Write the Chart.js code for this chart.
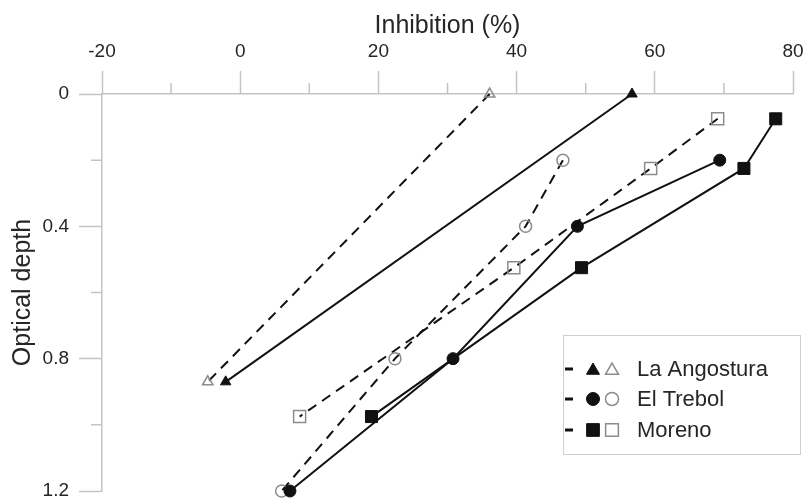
<!DOCTYPE html>
<html>
<head>
<meta charset="utf-8">
<script src="https://cdn.jsdelivr.net/npm/chart.js@4/dist/chart.umd.min.js"></script>
<style>
  html, body { margin: 0; padding: 0; background: #ffffff; }
  #wrap { width: 807px; height: 501px; }
</style>
</head>
<body>
<div id="wrap"><canvas id="c" width="807" height="501"></canvas></div>
<script>
// ---- data ----
const seriesNames = ['La Angostura', 'El Trebol', 'Moreno'];

const angFilledX = [56.7, -2.1];
const angFilledY = [0, 0.87];
const angOpenX   = [36.1, -4.7];
const angOpenY   = [0, 0.87];

const trebFilledX = [69.4, 48.8, 30.8, 7.2];
const trebFilledY = [0.2, 0.4, 0.8, 1.2];
const trebOpenX   = [46.7, 41.3, 22.4, 6.0];
const trebOpenY   = [0.2, 0.4, 0.8, 1.2];

const morFilledX = [77.5, 72.9, 49.4, 19.0];
const morFilledY = [0.075, 0.225, 0.525, 0.975];
const morOpenX   = [69.1, 59.4, 39.6, 8.6];
const morOpenY   = [0.075, 0.225, 0.525, 0.975];

const xMin = -20, xMax = 80, xStep = 10, xLabelStep = 20;
const yMin = 0, yMax = 1.2, yStep = 0.2, yLabelStep = 0.4;

const xTitle = 'Inhibition (%)';
const yTitle = 'Optical depth';

// ---- styling ----
const axisColor = '#c4c4c4';
const textColor = '#262626';
const openColor = '#8c8c8c';
const fillColor = '#111111';
const FONT = "'Liberation Sans', Arial, sans-serif";

function pts(xs, ys) { return xs.map((x, i) => ({ x: x, y: ys[i] })); }
function isMult(v, step) { const r = v / step; return Math.abs(r - Math.round(r)) < 1e-6; }

function ds(label, xs, ys, style, filled, dashed, radius) {
  return {
    label: label,
    data: pts(xs, ys),
    showLine: true,
    borderColor: fillColor,
    borderWidth: 2,
    borderDash: dashed ? [10, 7] : [],
    pointStyle: style,
    pointRadius: radius,
    pointHoverRadius: radius,
    pointBackgroundColor: filled ? fillColor : 'rgba(0,0,0,0)',
    pointBorderColor: filled ? fillColor : openColor,
    pointBorderWidth: filled ? 1 : 1.5,
    clip: false,
    tension: 0
  };
}

const datasets = [
  ds(seriesNames[0] + ' filled', angFilledX, angFilledY, 'triangle', true, false, 6),
  ds(seriesNames[0] + ' open', angOpenX, angOpenY, 'triangle', false, true, 6),
  ds(seriesNames[1] + ' filled', trebFilledX, trebFilledY, 'circle', true, false, 6),
  ds(seriesNames[1] + ' open', trebOpenX, trebOpenY, 'circle', false, true, 6),
  ds(seriesNames[2] + ' filled', morFilledX, morFilledY, 'rect', true, false, 8.5),
  ds(seriesNames[2] + ' open', morOpenX, morOpenY, 'rect', false, true, 8.5)
];

// minor ticks + custom legend
const extrasPlugin = {
  id: 'extras',
  afterDraw(chart) {
    const ctx = chart.ctx;
    const xs = chart.scales.x, ys = chart.scales.y;
    const area = chart.chartArea;
    ctx.save();
    ctx.strokeStyle = axisColor;
    ctx.lineWidth = 1.5;
    ctx.beginPath();
    xs.ticks.forEach(t => {
      if (!isMult(t.value, xLabelStep)) {
        const px = xs.getPixelForValue(t.value);
        ctx.moveTo(px, area.top);
        ctx.lineTo(px, area.top - 11);
      }
    });
    ys.ticks.forEach(t => {
      if (!isMult(t.value, yLabelStep)) {
        const py = ys.getPixelForValue(t.value);
        ctx.moveTo(area.left, py);
        ctx.lineTo(area.left - 11, py);
      }
    });
    ctx.stroke();

    // legend
    const bx = 563, by = 335, bw = 237, bh = 119;
    ctx.strokeStyle = '#cfcfcf';
    ctx.lineWidth = 1;
    ctx.fillStyle = '#ffffff';
    ctx.fillRect(bx, by, bw, bh);
    ctx.strokeRect(bx + 0.5, by + 0.5, bw, bh);
    const rows = [369, 399, 430];
    const styles = [['triangle', 7.5], ['circle', 6.5], ['rect', 9]];
    rows.forEach((ry, i) => {
      ctx.strokeStyle = '#111';
      ctx.lineWidth = 3;
      ctx.setLineDash([]);
      ctx.beginPath();
      ctx.moveTo(565, ry);
      ctx.lineTo(573, ry);
      ctx.stroke();
      const st = styles[i];
      const dy = st[0] === 'triangle' ? 1.5 : 0;
      ctx.fillStyle = fillColor;
      ctx.strokeStyle = fillColor;
      ctx.lineWidth = 1;
      Chart.helpers.drawPoint(ctx, { pointStyle: st[0], radius: st[1], rotation: 0, borderWidth: 1 }, 593, ry + dy);
      ctx.fillStyle = 'rgba(0,0,0,0)';
      ctx.strokeStyle = openColor;
      ctx.lineWidth = 1.5;
      Chart.helpers.drawPoint(ctx, { pointStyle: st[0], radius: st[1], rotation: 0, borderWidth: 1.5 }, 612, ry + dy);
      ctx.fillStyle = textColor;
      ctx.font = "22px " + FONT;
      ctx.textBaseline = 'middle';
      ctx.textAlign = 'left';
      ctx.fillText(seriesNames[i], 637, ry + 1);
    });
    ctx.restore();
  }
};

new Chart(document.getElementById('c'), {
  type: 'scatter',
  data: { datasets: datasets },
  plugins: [extrasPlugin],
  options: {
    responsive: false,
    animation: false,
    events: [],
    layout: { padding: { left: 0, right: 14, top: 0, bottom: 9 } },
    plugins: { legend: { display: false }, tooltip: { enabled: false } },
    scales: {
      x: {
        type: 'linear',
        position: 'top',
        min: xMin, max: xMax,
        afterFit(scale) { scale.height = 94; scale.paddingLeft = 0; scale.paddingRight = 0; },
        border: { display: true, color: axisColor, width: 1.5 },
        grid: {
          drawOnChartArea: false,
          drawTicks: true,
          tickLength: 23,
          tickWidth: 1.5,
          tickColor: (c) => (c.tick && isMult(c.tick.value, xLabelStep)) ? axisColor : 'rgba(0,0,0,0)'
        },
        ticks: {
          stepSize: xStep,
          padding: 8,
          color: textColor,
          font: { family: FONT, size: 19 },
          maxRotation: 0,
          autoSkip: false,
          callback: (v) => isMult(v, xLabelStep) ? String(Math.round(v)) : ''
        },
        title: {
          display: true,
          text: xTitle,
          color: textColor,
          font: { family: FONT, size: 25 },
          padding: { top: 11, bottom: 0 }
        }
      },
      y: {
        type: 'linear',
        position: 'left',
        reverse: true,
        min: yMin, max: yMax,
        afterFit(scale) { scale.width = 102; scale.paddingTop = 0; scale.paddingBottom = 0; },
        border: { display: true, color: axisColor, width: 1.5 },
        grid: {
          drawOnChartArea: false,
          drawTicks: true,
          tickLength: 23,
          tickWidth: 1.5,
          tickColor: (c) => (c.tick && isMult(c.tick.value, yLabelStep)) ? axisColor : 'rgba(0,0,0,0)'
        },
        ticks: {
          stepSize: yStep,
          padding: 10,
          color: textColor,
          font: { family: FONT, size: 19 },
          autoSkip: false,
          callback: (v) => isMult(v, yLabelStep) ? String(Math.round(v * 10) / 10) : ''
        },
        title: {
          display: true,
          text: yTitle,
          color: textColor,
          font: { family: FONT, size: 25 },
          padding: { top: 8, bottom: 0 }
        }
      }
    }
  }
});
</script>
</body>
</html>
